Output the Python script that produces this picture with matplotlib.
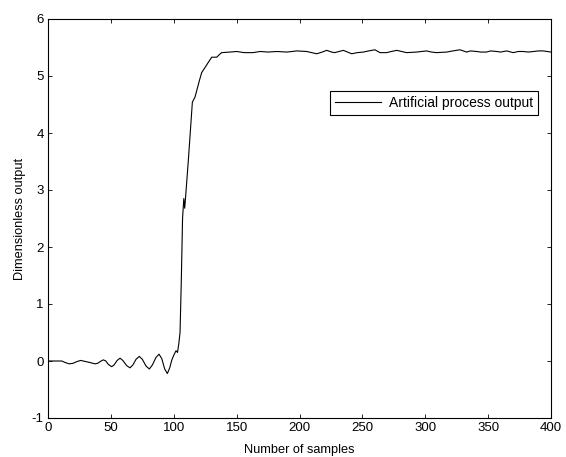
import numpy as np
import matplotlib
matplotlib.use('Agg')
import matplotlib.pyplot as plt

# samples / output
samples = [0, 5, 11, 14, 17, 20, 23, 26, 30, 34, 37.4, 39.5, 41.5, 44, 46, 48,
           50.6, 52.5, 55, 57.3, 59.5, 62.5, 65.2, 67.5, 70, 72.6, 75, 78, 80.6,
           83, 85.8, 88.3, 90.5, 92.8, 94.9, 96.8, 98.5, 100, 101.8, 103, 104,
           105, 106, 107, 108, 108.7, 109.5, 111.6, 114.8, 116.9, 120.4, 122.2,
           124.9, 127.5, 130.2, 134.2, 136, 138.1, 144.7, 150, 156, 163, 168.7,
           175, 181.9, 189.9, 194, 197.8, 205.7, 213.7, 218, 221.6, 225.6, 228,
           234.9, 241.5, 246, 250.8, 255, 260, 264, 269.3, 273, 277.3, 285.2,
           293.2, 297, 301, 305, 309, 317, 322, 327.6, 332.9, 336, 340.9, 344,
           348.8, 352, 356.8, 360, 364.7, 370, 374, 378, 382, 386, 390, 393.9,
           397, 400]
output = [0.0, 0.0, 0.0, -0.03, -0.05, -0.04, -0.01, 0.01, -0.01, -0.03, -0.05,
          -0.04, -0.01, 0.02, 0.0, -0.06, -0.1, -0.07, 0.01, 0.05, 0.01, -0.08,
          -0.12, -0.07, 0.03, 0.08, 0.03, -0.09, -0.14, -0.07, 0.06, 0.12, 0.04,
          -0.14, -0.22, -0.12, 0.02, 0.1, 0.18, 0.15, 0.3, 0.5, 1.4, 2.5, 2.85,
          2.68, 2.9, 3.52, 4.54, 4.63, 4.92, 5.06, 5.15, 5.24, 5.33, 5.33, 5.37,
          5.41, 5.42, 5.43, 5.41, 5.41, 5.43, 5.42, 5.43, 5.42, 5.43, 5.44, 5.43,
          5.39, 5.42, 5.45, 5.42, 5.41, 5.45, 5.39, 5.41, 5.42, 5.44, 5.46, 5.41,
          5.41, 5.43, 5.45, 5.41, 5.42, 5.43, 5.44, 5.42, 5.41, 5.42, 5.44, 5.46,
          5.42, 5.44, 5.43, 5.42, 5.42, 5.44, 5.43, 5.42, 5.44, 5.41, 5.43, 5.43,
          5.42, 5.43, 5.44, 5.44, 5.43, 5.42]

xticks = np.arange(0, 401, 50)
yticks = np.arange(-1, 7, 1)

plt.rcParams['font.family'] = ['Liberation Sans', 'DejaVu Sans']
plt.rcParams['font.size'] = 9.5
plt.rcParams['axes.unicode_minus'] = False

fig = plt.figure(figsize=(5.66, 4.57), dpi=100)
ax = fig.add_axes([48 / 566, 39 / 457, 503 / 566, 399 / 457])

ax.plot(samples, output, color='black', linewidth=0.8, label='Artificial process output')

ax.set_xlim(0, 400)
ax.set_ylim(-1, 6)
ax.set_xticks(xticks)
ax.set_yticks(yticks)
ax.tick_params(direction='in', top=True, right=True, length=3, width=0.6, pad=3)
for sp in ax.spines.values():
    sp.set_linewidth(0.8)

ax.set_xlabel('Number of samples', fontsize=9.2, labelpad=7)
ax.set_ylabel('Dimensionless output', fontsize=9.2, labelpad=4)

leg = ax.legend(loc='upper right', bbox_to_anchor=(0.974, 0.82), borderaxespad=0,
                fancybox=False, framealpha=1, edgecolor='black', handlelength=3.3,
                borderpad=0.35, handletextpad=0.6, fontsize=10)
leg.get_frame().set_linewidth(0.8)

fig.savefig('out.png', dpi=100)
plt.close()
